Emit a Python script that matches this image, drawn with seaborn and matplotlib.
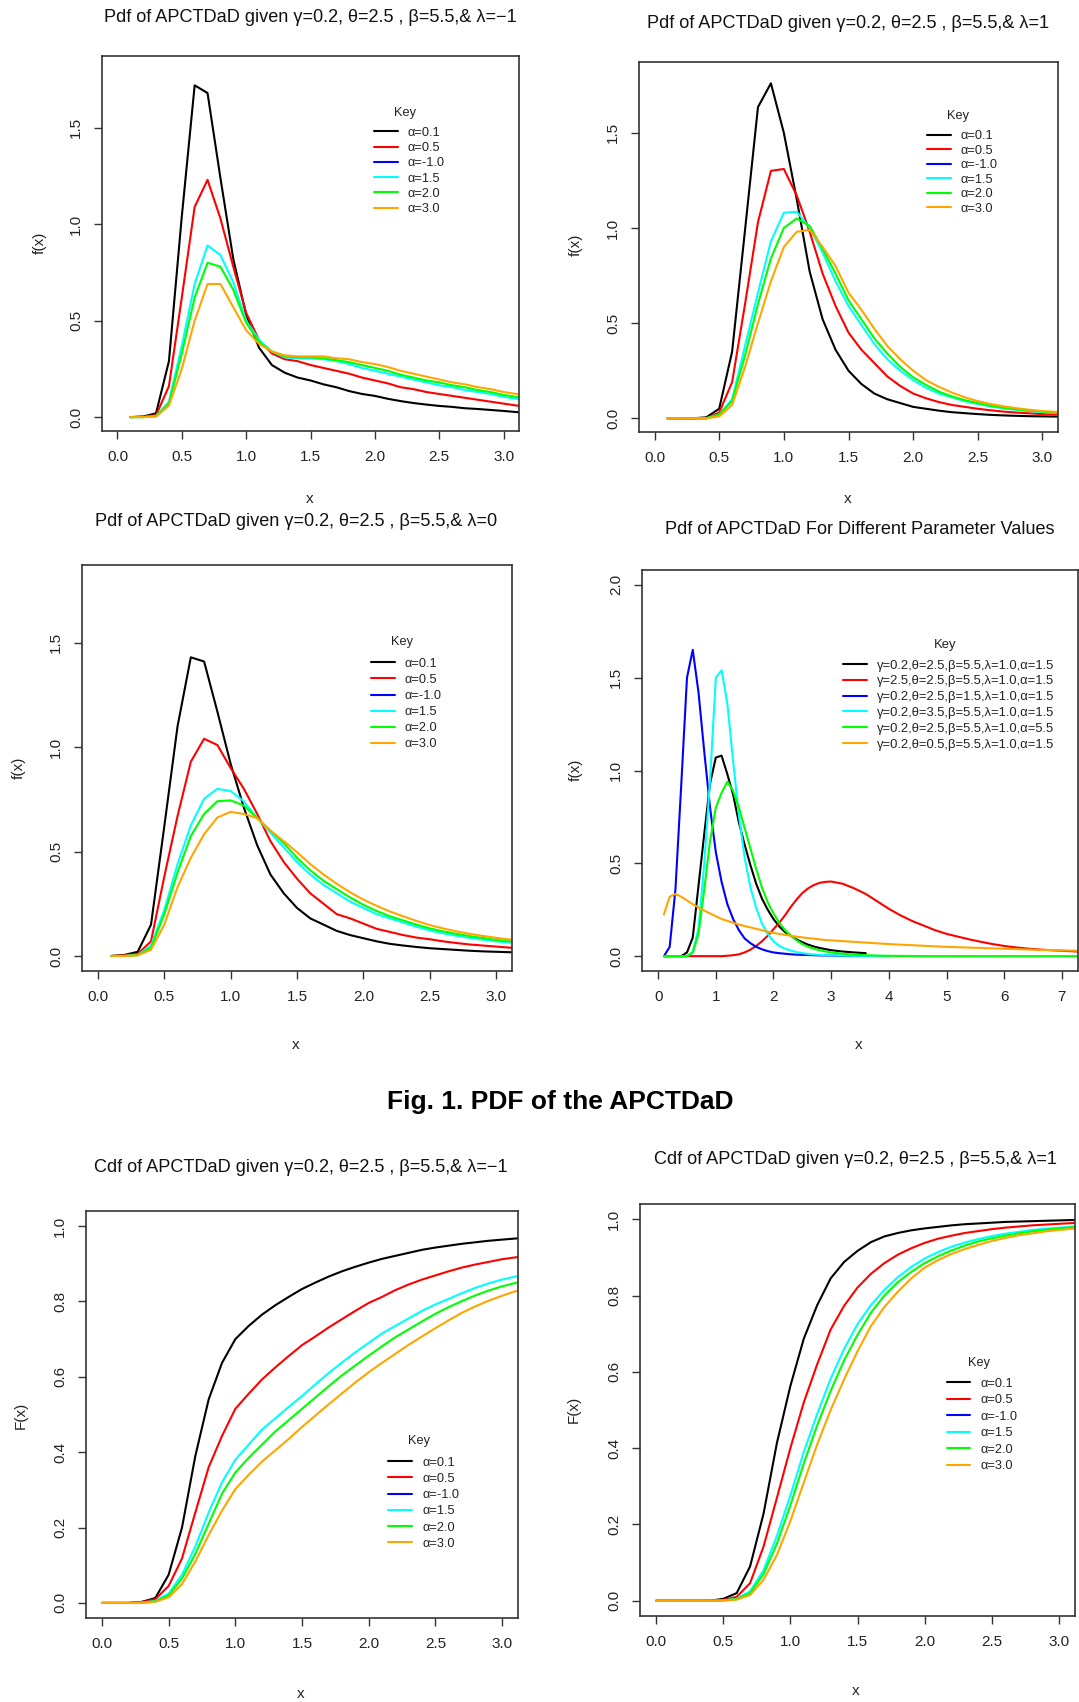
import numpy as np
import pandas as pd
import matplotlib
matplotlib.use("Agg")
import matplotlib.pyplot as plt
from matplotlib.lines import Line2D
import seaborn as sns

sns.set_theme(style="ticks")
plt.rcParams["font.family"] = ["Liberation Sans", "DejaVu Sans"]
plt.rcParams["axes.unicode_minus"] = True

W, H, DPI = 1079, 1702, 100

# ---------------- data ----------------
x_pdf = [0.1, 0.2, 0.3, 0.4, 0.5, 0.6, 0.7, 0.8, 0.9, 1.0, 1.1, 1.2, 1.3, 1.4, 1.5, 1.6,
         1.7, 1.8, 1.9, 2.0, 2.1, 2.2, 2.3, 2.4, 2.5, 2.6, 2.7, 2.8, 2.9, 3.0, 3.1, 3.2]
x_cdf = [0.0, 0.1, 0.2, 0.3, 0.4, 0.5, 0.6, 0.7, 0.8, 0.9, 1.0, 1.1, 1.2, 1.3, 1.4, 1.5, 1.6,
         1.7, 1.8, 1.9, 2.0, 2.1, 2.2, 2.3, 2.4, 2.5, 2.6, 2.7, 2.8, 2.9, 3.0, 3.1, 3.2]
x_mix = [0.1, 0.2, 0.3, 0.4, 0.5, 0.6, 0.7, 0.8, 0.9, 1.0, 1.1, 1.2, 1.3, 1.4, 1.5, 1.6,
         1.7, 1.8, 1.9, 2.0, 2.1, 2.2, 2.3, 2.4, 2.5, 2.6, 2.7, 2.8, 2.9, 3.0,
         3.2, 3.4, 3.6, 3.8, 4.0, 4.2, 4.4, 4.6, 4.8, 5.0, 5.2, 5.4, 5.6, 5.8, 6.0,
         6.2, 6.4, 6.6, 6.8, 7.0, 7.2, 7.4]

alpha_labels = ["α=0.1", "α=0.5", "α=-1.0", "α=1.5", "α=2.0", "α=3.0"]
alpha_colors = ["black", "#FF0000", "#0000FF", "#00FFFF", "#00FF00", "#FFA500"]

mix_labels = ["γ=0.2,θ=2.5,β=5.5,λ=1.0,α=1.5",
              "γ=2.5,θ=2.5,β=5.5,λ=1.0,α=1.5",
              "γ=0.2,θ=2.5,β=1.5,λ=1.0,α=1.5",
              "γ=0.2,θ=3.5,β=5.5,λ=1.0,α=1.5",
              "γ=0.2,θ=2.5,β=5.5,λ=1.0,α=5.5",
              "γ=0.2,θ=0.5,β=5.5,λ=1.0,α=1.5"]
mix_colors = alpha_colors

# pdf, lambda = -1
pdf_m1_a01 = [0.0, 0.003, 0.02, 0.29, 1.04, 1.72, 1.68, 1.24, 0.82, 0.53, 0.36, 0.27, 0.23, 0.205,
              0.19, 0.17, 0.155, 0.135, 0.12, 0.11, 0.095, 0.083, 0.073, 0.065, 0.058, 0.053,
              0.046, 0.042, 0.037, 0.032, 0.026, 0.023]
pdf_m1_a05 = [0.0, 0.002, 0.01, 0.16, 0.62, 1.09, 1.23, 1.03, 0.78, 0.54, 0.40, 0.33, 0.30, 0.29,
              0.27, 0.255, 0.24, 0.225, 0.205, 0.19, 0.175, 0.155, 0.145, 0.13, 0.12, 0.11,
              0.10, 0.09, 0.08, 0.07, 0.06, 0.055]
pdf_m1_a15 = [0.0, 0.0, 0.005, 0.08, 0.37, 0.69, 0.89, 0.84, 0.70, 0.50, 0.40, 0.34, 0.31, 0.305,
              0.305, 0.30, 0.29, 0.275, 0.255, 0.24, 0.225, 0.21, 0.195, 0.18, 0.165, 0.155,
              0.14, 0.13, 0.12, 0.105, 0.095, 0.09]
pdf_m1_a20 = [0.0, 0.0, 0.005, 0.07, 0.33, 0.62, 0.80, 0.78, 0.66, 0.49, 0.39, 0.34, 0.315, 0.31,
              0.31, 0.305, 0.295, 0.285, 0.27, 0.255, 0.24, 0.22, 0.205, 0.19, 0.18, 0.165,
              0.155, 0.14, 0.13, 0.115, 0.105, 0.10]
pdf_m1_a30 = [0.0, 0.0, 0.003, 0.06, 0.25, 0.50, 0.69, 0.69, 0.57, 0.45, 0.38, 0.34, 0.32, 0.315,
              0.315, 0.315, 0.305, 0.30, 0.285, 0.275, 0.26, 0.24, 0.225, 0.21, 0.195, 0.18,
              0.17, 0.155, 0.145, 0.13, 0.12, 0.11]

# pdf, lambda = 1
pdf_p1_a01 = [0.0, 0.0, 0.0, 0.005, 0.05, 0.35, 0.99, 1.635, 1.76, 1.50, 1.15, 0.77, 0.52, 0.36,
              0.25, 0.18, 0.13, 0.10, 0.08, 0.06, 0.05, 0.04, 0.032, 0.027, 0.022, 0.018,
              0.015, 0.013, 0.011, 0.01, 0.009, 0.008]
pdf_p1_a05 = [0.0, 0.0, 0.0, 0.0, 0.03, 0.19, 0.60, 1.03, 1.30, 1.31, 1.17, 0.98, 0.76, 0.59,
              0.45, 0.36, 0.29, 0.22, 0.17, 0.13, 0.105, 0.085, 0.07, 0.06, 0.05, 0.042,
              0.035, 0.03, 0.026, 0.022, 0.02, 0.018]
pdf_p1_a15 = [0.0, 0.0, 0.0, 0.0, 0.02, 0.10, 0.38, 0.66, 0.93, 1.08, 1.085, 1.0, 0.87, 0.72,
              0.59, 0.49, 0.39, 0.31, 0.25, 0.20, 0.16, 0.13, 0.11, 0.09, 0.075, 0.062,
              0.052, 0.044, 0.038, 0.032, 0.028, 0.025]
pdf_p1_a20 = [0.0, 0.0, 0.0, 0.0, 0.02, 0.09, 0.33, 0.60, 0.84, 1.0, 1.05, 1.01, 0.89, 0.76,
              0.62, 0.52, 0.42, 0.34, 0.27, 0.215, 0.175, 0.14, 0.115, 0.095, 0.08, 0.066,
              0.055, 0.047, 0.04, 0.035, 0.03, 0.027]
pdf_p1_a30 = [0.0, 0.0, 0.0, 0.0, 0.01, 0.07, 0.27, 0.50, 0.72, 0.90, 0.98, 0.99, 0.90, 0.80,
              0.66, 0.57, 0.47, 0.38, 0.31, 0.25, 0.20, 0.165, 0.135, 0.11, 0.09, 0.075,
              0.063, 0.053, 0.045, 0.038, 0.034, 0.03]

# pdf, lambda = 0
pdf_z_a01 = [0.0, 0.005, 0.02, 0.15, 0.62, 1.10, 1.43, 1.41, 1.17, 0.92, 0.71, 0.53, 0.39, 0.30,
             0.23, 0.18, 0.15, 0.12, 0.10, 0.085, 0.07, 0.058, 0.05, 0.043, 0.037, 0.033,
             0.029, 0.025, 0.022, 0.02, 0.018, 0.016]
pdf_z_a05 = [0.0, 0.003, 0.01, 0.07, 0.38, 0.67, 0.93, 1.04, 1.01, 0.90, 0.80, 0.68, 0.55, 0.45,
             0.37, 0.30, 0.25, 0.20, 0.18, 0.155, 0.13, 0.115, 0.10, 0.088, 0.08, 0.07,
             0.062, 0.055, 0.05, 0.045, 0.04, 0.036]
pdf_z_a15 = [0.0, 0.0, 0.005, 0.05, 0.22, 0.44, 0.625, 0.753, 0.80, 0.79, 0.74, 0.66, 0.59, 0.52,
             0.45, 0.39, 0.34, 0.30, 0.26, 0.23, 0.20, 0.18, 0.16, 0.14, 0.122, 0.109,
             0.097, 0.087, 0.078, 0.07, 0.064, 0.058]
pdf_z_a20 = [0.0, 0.0, 0.004, 0.04, 0.20, 0.40, 0.574, 0.68, 0.741, 0.745, 0.72, 0.66, 0.60, 0.54,
             0.47, 0.41, 0.36, 0.32, 0.28, 0.245, 0.215, 0.19, 0.17, 0.15, 0.132, 0.118,
             0.106, 0.095, 0.086, 0.077, 0.07, 0.064]
pdf_z_a30 = [0.0, 0.0, 0.003, 0.03, 0.15, 0.33, 0.47, 0.583, 0.663, 0.69, 0.68, 0.66, 0.60, 0.55,
             0.497, 0.44, 0.39, 0.345, 0.305, 0.27, 0.24, 0.213, 0.19, 0.168, 0.148, 0.132,
             0.118, 0.106, 0.096, 0.087, 0.079, 0.072]

# pdf, different parameter sets (None = series not drawn that far)
mix_1 = [0.0, 0.0, 0.0, 0.0, 0.02, 0.10, 0.38, 0.66, 0.93, 1.07, 1.08, 0.98, 0.87, 0.72, 0.60,
         0.49, 0.39, 0.31, 0.25, 0.20, 0.16, 0.13, 0.11, 0.09, 0.075, 0.062, 0.052, 0.044,
         0.038, 0.032, 0.025, 0.02, 0.016, None, None, None, None, None, None, None, None,
         None, None, None, None, None, None, None, None, None, None, None]
mix_2 = [0.0, 0.0, 0.0, 0.0, 0.0, 0.0, 0.0, 0.0, 0.0, 0.0, 0.0, 0.002, 0.005, 0.01, 0.02,
         0.035, 0.055, 0.08, 0.11, 0.145, 0.18, 0.22, 0.265, 0.305, 0.34, 0.365, 0.383, 0.395,
         0.40, 0.402, 0.39, 0.365, 0.335, 0.295, 0.255, 0.22, 0.19, 0.165, 0.14, 0.12, 0.105,
         0.09, 0.077, 0.065, 0.055, 0.047, 0.041, 0.036, 0.032, 0.029, 0.026, 0.023]
mix_3 = [0.0, 0.05, 0.36, 0.92, 1.50, 1.65, 1.42, 1.10, 0.80, 0.56, 0.40, 0.28, 0.20, 0.14,
         0.095, 0.07, 0.05, 0.037, 0.027, 0.02, 0.016, 0.013, 0.01, 0.008, 0.007, 0.006,
         0.005, 0.004, 0.0035, 0.003, 0.002, 0.002, 0.001, None, None, None, None, None,
         None, None, None, None, None, None, None, None, None, None, None, None, None, None]
mix_4 = [0.0, 0.0, 0.0, 0.0, 0.0, 0.02, 0.15, 0.50, 0.95, 1.50, 1.54, 1.36, 1.05, 0.76, 0.53,
         0.37, 0.26, 0.175, 0.12, 0.08, 0.055, 0.04, 0.03, 0.022, 0.016, 0.012, 0.009, 0.007,
         0.005, 0.004, 0.003, 0.002, 0.001, 0.001, 0.0, None, None, None, None, None, None,
         None, None, None, None, None, None, None, None, None, None, None]
mix_5 = [0.0, 0.0, 0.0, 0.0, 0.0, 0.02, 0.12, 0.36, 0.62, 0.80, 0.88, 0.94, 0.89, 0.80, 0.69,
         0.58, 0.47, 0.37, 0.29, 0.23, 0.18, 0.14, 0.11, 0.085, 0.065, 0.05, 0.04, 0.032,
         0.025, 0.02, 0.013, 0.008, 0.005, 0.003, 0.002, 0.001, 0.001, 0.0, 0.0, 0.0, 0.0,
         0.0, 0.0, 0.0, 0.0, 0.0, 0.0, 0.0, 0.0, 0.0, 0.0, 0.0]
mix_6 = [0.225, 0.32, 0.335, 0.32, 0.30, 0.28, 0.262, 0.245, 0.23, 0.215, 0.20, 0.19, 0.18,
         0.17, 0.162, 0.155, 0.147, 0.14, 0.132, 0.125, 0.12, 0.115, 0.11, 0.105, 0.101,
         0.097, 0.094, 0.09, 0.087, 0.085, 0.081, 0.077, 0.073, 0.069, 0.065, 0.062, 0.059,
         0.056, 0.053, 0.05, 0.048, 0.046, 0.044, 0.042, 0.04, 0.038, 0.036, 0.034, 0.033,
         0.031, 0.03, 0.028]

# cdf, lambda = -1
cdf_m1_a01 = [0.0, 0.0, 0.0, 0.003, 0.013, 0.075, 0.20, 0.39, 0.54, 0.637, 0.70, 0.735, 0.765,
              0.79, 0.812, 0.833, 0.85, 0.866, 0.88, 0.892, 0.903, 0.913, 0.921, 0.929, 0.937,
              0.943, 0.948, 0.953, 0.957, 0.961, 0.964, 0.967, 0.969]
cdf_m1_a05 = [0.0, 0.0, 0.0, 0.002, 0.01, 0.045, 0.118, 0.24, 0.36, 0.443, 0.515, 0.555, 0.593,
              0.625, 0.655, 0.684, 0.707, 0.731, 0.753, 0.775, 0.796, 0.812, 0.83, 0.845,
              0.858, 0.869, 0.88, 0.89, 0.898, 0.905, 0.912, 0.917, 0.921]
cdf_m1_a15 = [0.0, 0.0, 0.0, 0.001, 0.005, 0.025, 0.075, 0.15, 0.24, 0.32, 0.38, 0.42, 0.46,
              0.49, 0.52, 0.549, 0.58, 0.61, 0.638, 0.665, 0.69, 0.715, 0.735, 0.755, 0.775,
              0.792, 0.807, 0.822, 0.836, 0.848, 0.858, 0.866, 0.873]
cdf_m1_a20 = [0.0, 0.0, 0.0, 0.001, 0.004, 0.02, 0.065, 0.13, 0.21, 0.29, 0.346, 0.385, 0.42,
              0.455, 0.485, 0.515, 0.545, 0.575, 0.604, 0.63, 0.656, 0.681, 0.705, 0.726,
              0.747, 0.767, 0.785, 0.801, 0.816, 0.829, 0.84, 0.849, 0.856]
cdf_m1_a30 = [0.0, 0.0, 0.0, 0.0, 0.003, 0.015, 0.05, 0.11, 0.18, 0.245, 0.302, 0.34, 0.375,
              0.405, 0.435, 0.467, 0.497, 0.527, 0.556, 0.585, 0.612, 0.637, 0.661, 0.685,
              0.707, 0.729, 0.75, 0.77, 0.787, 0.802, 0.815, 0.827, 0.836]

# cdf, lambda = 1
cdf_p1_a01 = [0.0, 0.0, 0.0, 0.0, 0.0, 0.005, 0.02, 0.09, 0.228, 0.414, 0.563, 0.687, 0.775,
              0.845, 0.888, 0.917, 0.94, 0.955, 0.964, 0.971, 0.976, 0.98, 0.984, 0.987,
              0.989, 0.991, 0.993, 0.994, 0.995, 0.996, 0.997, 0.998, 0.998]
cdf_p1_a05 = [0.0, 0.0, 0.0, 0.0, 0.0, 0.002, 0.01, 0.046, 0.142, 0.27, 0.40, 0.52, 0.62,
              0.711, 0.773, 0.821, 0.857, 0.885, 0.907, 0.924, 0.938, 0.949, 0.957, 0.964,
              0.969, 0.974, 0.978, 0.981, 0.984, 0.986, 0.988, 0.99, 0.991]
cdf_p1_a15 = [0.0, 0.0, 0.0, 0.0, 0.0, 0.001, 0.005, 0.025, 0.08, 0.17, 0.276, 0.39, 0.49,
              0.582, 0.66, 0.725, 0.775, 0.815, 0.848, 0.875, 0.897, 0.914, 0.928, 0.939,
              0.948, 0.956, 0.962, 0.967, 0.972, 0.975, 0.978, 0.981, 0.983]
cdf_p1_a20 = [0.0, 0.0, 0.0, 0.0, 0.0, 0.001, 0.004, 0.02, 0.07, 0.15, 0.25, 0.36, 0.46,
              0.55, 0.63, 0.697, 0.755, 0.80, 0.835, 0.862, 0.885, 0.903, 0.918, 0.931,
              0.942, 0.95, 0.957, 0.963, 0.968, 0.972, 0.976, 0.979, 0.981]
cdf_p1_a30 = [0.0, 0.0, 0.0, 0.0, 0.0, 0.0, 0.003, 0.015, 0.055, 0.12, 0.209, 0.31, 0.41,
              0.50, 0.58, 0.654, 0.72, 0.77, 0.81, 0.845, 0.873, 0.893, 0.909, 0.922, 0.933,
              0.943, 0.951, 0.958, 0.963, 0.968, 0.972, 0.975, 0.978]

titles = [
    "Pdf of APCTDaD given γ=0.2, θ=2.5 , β=5.5,& λ=−1",
    "Pdf of APCTDaD given γ=0.2, θ=2.5 , β=5.5,& λ=1",
    "Pdf of APCTDaD given γ=0.2, θ=2.5 , β=5.5,& λ=0",
    "Pdf of APCTDaD For Different Parameter Values",
    "Cdf of APCTDaD given γ=0.2, θ=2.5 , β=5.5,& λ=−1",
    "Cdf of APCTDaD given γ=0.2, θ=2.5 , β=5.5,& λ=1",
]
caption = "Fig. 1. PDF of the APCTDaD"

# ---------------- helpers ----------------
EDGE = "#333333"
TXT = "#222222"
LW = 1.5
TICK_FS = 11.0


def long_frame(x, labels, series):
    parts = []
    for lab, vals in zip(labels, series):
        parts.append(pd.DataFrame({"x": x, "y": pd.to_numeric(pd.Series(vals), errors="coerce"),
                                   "series": lab}))
    return pd.concat(parts, ignore_index=True).dropna()


fig = plt.figure(figsize=(W / DPI, H / DPI), dpi=DPI)
fig.patch.set_facecolor("white")


def px_axes(l, t, r, b):
    return fig.add_axes([l / W, 1 - b / H, (r - l) / W, (b - t) / H])


def fig_text(x, y, s, **kw):
    return fig.text(x / W, 1 - y / H, s, ha="center", va="center", **kw)


def draw_panel(spec):
    ax = px_axes(*spec["rect"])
    df = long_frame(spec["x"], spec["labels"], spec["series"])
    pal = dict(zip(spec["labels"], spec["colors"]))
    sns.lineplot(data=df, x="x", y="y", hue="series", hue_order=spec["labels"],
                 palette=pal, estimator=None, sort=False, legend=False,
                 linewidth=LW, ax=ax)
    x0, x1 = spec["xr"]
    y0, y1 = spec["yr"]
    ax.set_xlim(x0 - 0.04 * (x1 - x0), x1 + 0.04 * (x1 - x0))
    ax.set_ylim(y0 - 0.04 * (y1 - y0), y1 + 0.04 * (y1 - y0))
    ax.set_xticks(spec["xticks"])
    ax.set_xticklabels(spec["xticklabels"])
    ax.set_yticks(spec["yticks"])
    ax.set_yticklabels(spec["yticklabels"], rotation=90, va="center")
    ax.set_xlabel("")
    ax.set_ylabel("")
    ax.set_facecolor("white")
    for sp in ax.spines.values():
        sp.set_visible(True)
        sp.set_color(EDGE)
        sp.set_linewidth(1.2)
    ax.tick_params(axis="both", direction="out", length=6.0, width=1.0, color=EDGE,
                   labelsize=TICK_FS, labelcolor=TXT)
    ax.tick_params(axis="x", pad=8.0)
    ax.tick_params(axis="y", pad=7.5)
    ax.grid(False)

    # legend ("Key")
    handles = [Line2D([], [], color=c, lw=LW) for c in spec["key_colors"]]
    fs = spec["key_fs"]
    fs_px = fs / 72 * DPI
    hx, row0, pitch = spec["key_rows"]
    top = row0 - 0.49 * fs_px + 1.5
    ax.legend(handles, spec["key_labels"], loc="upper left",
              bbox_to_anchor=(hx / W, 1 - top / H), bbox_transform=fig.transFigure,
              frameon=False, fontsize=fs, handlelength=1.85, handletextpad=0.8,
              labelspacing=max(pitch / fs_px - 0.975, 0.0), borderpad=0, borderaxespad=0,
              labelcolor=TXT)
    kx, ky = spec["key_title"]
    fig_text(kx, ky, "Key", fontsize=fs, color=TXT)

    fig_text(*spec["title_xy"], spec["title"], fontsize=13.1, color="#111111")
    fig_text(*spec["xlabel_xy"], "x", fontsize=TICK_FS, color=TXT)
    fig_text(*spec["ylabel_xy"], spec["ylabel"], fontsize=TICK_FS, color=TXT, rotation=90)
    return ax


x3_ticks = [0.0, 0.5, 1.0, 1.5, 2.0, 2.5, 3.0]
x3_labels = ["0.0", "0.5", "1.0", "1.5", "2.0", "2.5", "3.0"]
pdf_yticks = [0.0, 0.5, 1.0, 1.5]
pdf_ylabels = ["0.0", "0.5", "1.0", "1.5"]
cdf_yticks = [0.0, 0.2, 0.4, 0.6, 0.8, 1.0]
cdf_ylabels = ["0.0", "0.2", "0.4", "0.6", "0.8", "1.0"]

plotted_alpha = [alpha_labels[i] for i in (0, 1, 3, 4, 5)]
plotted_alpha_colors = [alpha_colors[i] for i in (0, 1, 3, 4, 5)]

common_alpha = dict(labels=plotted_alpha, colors=plotted_alpha_colors,
                    key_labels=alpha_labels, key_colors=alpha_colors, key_fs=9.2,
                    xticks=x3_ticks, xticklabels=x3_labels, xr=(0, 3))

specs = [
    dict(common_alpha, rect=(102, 56, 519, 431), x=x_pdf,
         series=[pdf_m1_a01, pdf_m1_a05, pdf_m1_a15, pdf_m1_a20, pdf_m1_a30],
         yr=(0, 1.8), yticks=pdf_yticks, yticklabels=pdf_ylabels, ylabel="f(x)",
         title=titles[0], title_xy=(310, 17), xlabel_xy=(310, 499), ylabel_xy=(40, 243),
         key_rows=(374, 131.7, 15.7), key_title=(405, 113.3)),
    dict(common_alpha, rect=(639, 62, 1058, 432), x=x_pdf,
         series=[pdf_p1_a01, pdf_p1_a05, pdf_p1_a15, pdf_p1_a20, pdf_p1_a30],
         yr=(0, 1.8), yticks=pdf_yticks, yticklabels=pdf_ylabels, ylabel="f(x)",
         title=titles[1], title_xy=(848, 23), xlabel_xy=(848, 499), ylabel_xy=(576, 245),
         key_rows=(927, 135, 15.0), key_title=(958, 116)),
    dict(common_alpha, rect=(82, 565, 512, 971), x=x_pdf,
         series=[pdf_z_a01, pdf_z_a05, pdf_z_a15, pdf_z_a20, pdf_z_a30],
         yr=(0, 1.8), yticks=pdf_yticks, yticklabels=pdf_ylabels, ylabel="f(x)",
         title=titles[2], title_xy=(296, 522), xlabel_xy=(296, 1045), ylabel_xy=(19, 768),
         key_rows=(371, 662.5, 16.6), key_title=(402, 642)),
    dict(rect=(642, 570, 1078, 971), x=x_mix, labels=mix_labels, colors=mix_colors,
         series=[mix_1, mix_2, mix_3, mix_4, mix_5, mix_6],
         key_labels=mix_labels, key_colors=mix_colors, key_fs=9.4,
         xr=(0, 7), xticks=[0, 1, 2, 3, 4, 5, 6, 7],
         xticklabels=["0", "1", "2", "3", "4", "5", "6", "7"],
         yr=(0, 2.0), yticks=[0.0, 0.5, 1.0, 1.5, 2.0],
         yticklabels=["0.0", "0.5", "1.0", "1.5", "2.0"], ylabel="f(x)",
         title=titles[3], title_xy=(860, 529), xlabel_xy=(859, 1045), ylabel_xy=(576, 770),
         key_rows=(842.5, 664.3, 16.4), key_title=(945.6, 644.6)),
    dict(common_alpha, rect=(86, 1211, 518, 1618), x=x_cdf,
         series=[cdf_m1_a01, cdf_m1_a05, cdf_m1_a15, cdf_m1_a20, cdf_m1_a30],
         yr=(0, 1.0), yticks=cdf_yticks, yticklabels=cdf_ylabels, ylabel="F(x)",
         title=titles[4], title_xy=(301, 1168), xlabel_xy=(301, 1694), ylabel_xy=(21, 1415),
         key_rows=(388.4, 1461.3, 16.7), key_title=(419.4, 1440.8)),
    dict(common_alpha, rect=(640, 1204, 1075, 1616), x=x_cdf,
         series=[cdf_p1_a01, cdf_p1_a05, cdf_p1_a15, cdf_p1_a20, cdf_p1_a30],
         yr=(0, 1.0), yticks=cdf_yticks, yticklabels=cdf_ylabels, ylabel="F(x)",
         title=titles[5], title_xy=(856, 1160), xlabel_xy=(856, 1691), ylabel_xy=(574, 1409),
         key_rows=(946.7, 1382.5, 17.0), key_title=(979, 1362.8)),
]

for spec in specs:
    draw_panel(spec)

fig_text(560, 1102, caption, fontsize=19, fontweight="bold", color="black")

fig.savefig("out.png", dpi=DPI, facecolor="white")
